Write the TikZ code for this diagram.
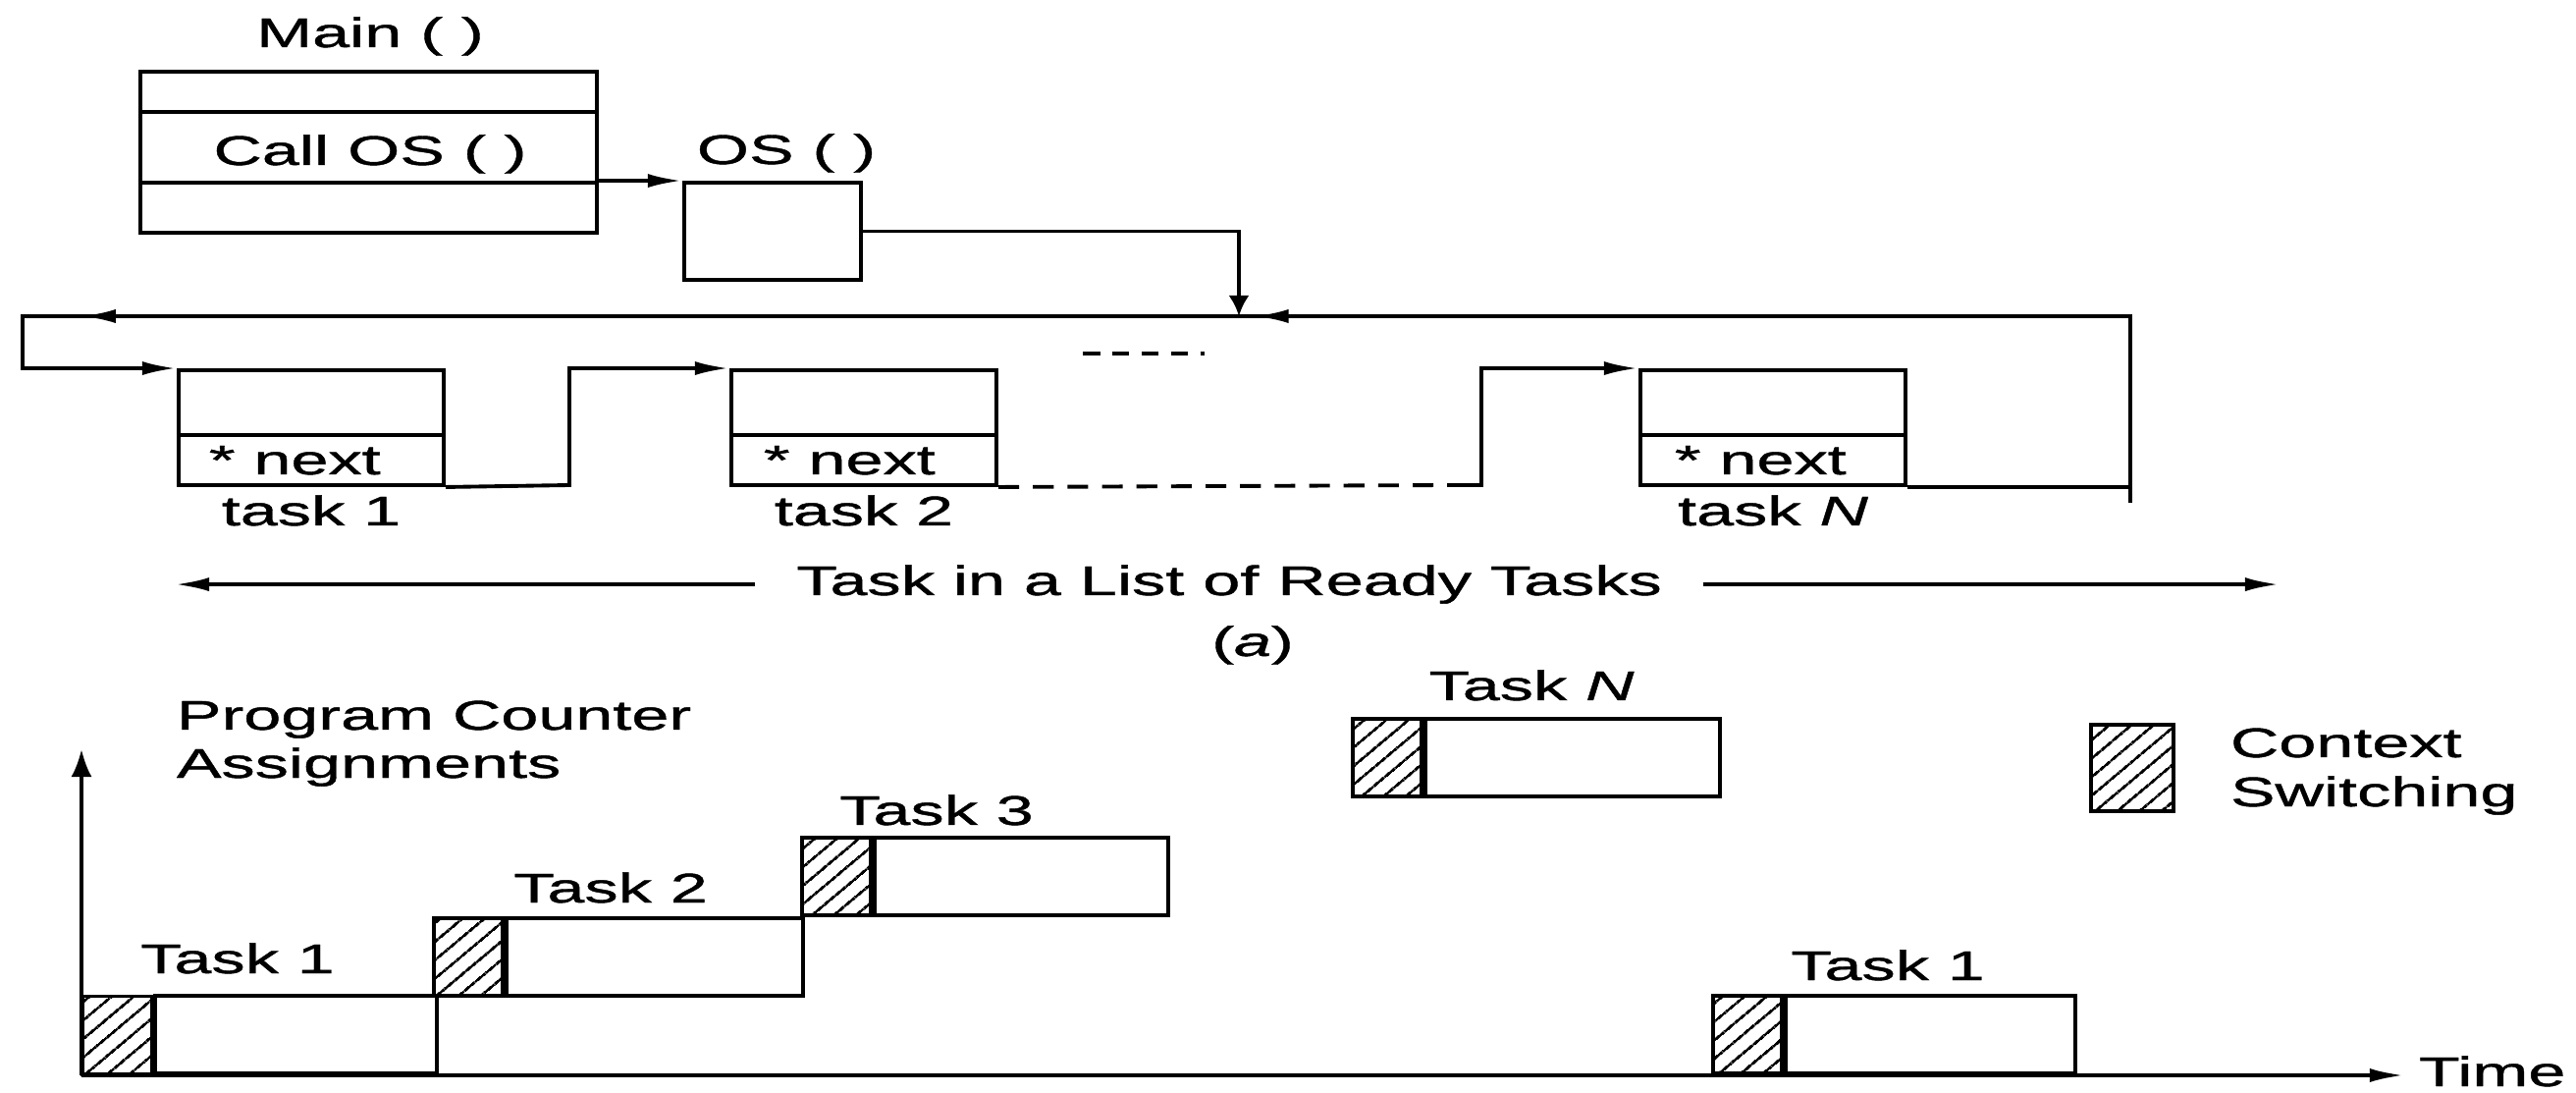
\documentclass[tikz,border=0pt]{standalone}
\usepackage{fontspec}
\setmainfont{Liberation Sans}[FakeStretch=1.62,FakeBold=1]
\usetikzlibrary{arrows.meta,patterns.meta,decorations.markings}

\begin{document}
\begin{tikzpicture}[
    x=0.01cm, y=-0.01cm, line width=1.1pt,
    lbl/.style={font=\fontsize{12}{14}\selectfont,inner sep=0pt,anchor=base},
    lblw/.style={lbl,anchor=base west},
    tcb/.style={draw,inner sep=0pt,minimum width=2.7cm,minimum height=1.17cm},
    cs/.style={draw,inner sep=0pt,minimum width=0.7cm,minimum height=0.79cm,anchor=south west,
      pattern={Lines[angle=40,distance=4pt,line width=0.8pt]}},
    run/.style={draw,inner sep=0pt,minimum width=#1,minimum height=0.79cm,anchor=south west},
    hto/.style={-{Latex[length=10pt,width=4pt]}},
    vto/.style={-{Latex[length=6pt,width=6pt]}},
    midto/.style={postaction={decorate},decoration={markings,
      mark=at position 10.82cm with {\arrow{Latex[length=10pt,width=4pt]}},
      mark=at position 22.76cm with {\arrow{Latex[length=10pt,width=4pt]}}}}]
  \useasboundingbox (0,0) rectangle (2624,1113);

  \node[draw,inner sep=0pt,minimum width=4.65cm,minimum height=1.64cm] (main) at (375.5,155) {};
  \node[lbl] (mainlbl) at (377,48) {Main ( )};
  \draw (main.west |- 0,114) -- (main.east |- 0,114);
  \draw (main.west |- 0,186) -- (main.east |- 0,186);
  \node[lbl] (call) at (377,168) {Call OS ( )};
  \node[draw,inner sep=0pt,minimum width=1.8cm,minimum height=0.99cm] (os) at (787,235.5) {};
  \node[lbl] (oslbl) at (801,167) {OS ( )};
  \draw[hto] (main.east |- os.north) -- (os.north west);

  \node[tcb] (t1) at (317,435.5) {};
  \node[tcb] (t2) at (880,435.5) {};
  \node[tcb] (tN) at (1806,435.5) {};
  \foreach \t in {t1,t2,tN}
    \draw (\t.west |- 0,443) -- (\t.east |- 0,443);
  \node[lblw] (n1) at (211,483) {* next};
  \node[lblw] (n2) at (776,483) {* next};
  \node[lblw] (nN) at (1704,483) {* next};
  \node[lbl] (t1lbl) at (317,535) {task 1};
  \node[lbl] (t2lbl) at (880,535) {task 2};
  \node[lbl] (tNlbl) at (1806,535) {task \textit{N}};

  \coordinate (join) at (1262,322);
  \coordinate (bl) at (23,322);
  \coordinate (rb) at (2170,512);
  \coordinate (k1) at (580,494);
  \coordinate (k2) at (1475,494);
  \coordinate (k3) at (1509,494);
  \coordinate (e1) at (1103,360);
  \coordinate (e2) at (1227,360);
  \draw[vto] (os.east) -| (join);
  \draw[hto,midto] (rb) |- (bl) |- (t1.north west);
  \draw[hto] (t1.south east) -- (k1) |- (t2.north west);
  \draw[dash pattern=on 6pt off 4pt] (t2.south east) -- (k2);
  \draw[hto] (k2) -- (k3) |- (tN.north west);
  \draw (tN.south east) -- (tN.south east -| rb);
  \draw[dash pattern=on 5pt off 3.5pt] (e1) -- (e2);

  \node[lbl,inner xsep=0.4cm] (list) at (1252,606) {Task in a List of Ready Tasks};
  \coordinate (lsl) at (178,596);
  \coordinate (lsr) at (2322,596);
  \draw[hto] (list.west) -- (list.west -| lsl);
  \draw[hto] (list.east) -- (list.east -| lsr);
  \node[lbl] (capa) at (1276,668) {(\textit{a})};

  \coordinate (o) at (83,1095);
  \coordinate (ytop) at (83,763);
  \coordinate (xend) at (2449,1095);
  \draw[-{Latex[length=8pt,width=6pt]}] (o) -- (ytop);
  \draw[hto] (o) -- (xend);
  \node[lblw] (time) at (2462,1106) {Time};
  \node[lblw] (pc1) at (178,743) {Program Counter};
  \node[lblw] (pc2) at (178,792) {Assignments};

  \node[cs] (cs1) at (83,1095) {};
  \node[run=2.87cm] (r1) at (cs1.south east) {};
  \node[cs] (cs2) at (440,1016) {};
  \node[run=3.02cm] (r2) at (cs2.south east) {};
  \node[cs] (cs3) at (815,934) {};
  \node[run=2.99cm] (r3) at (cs3.south east) {};
  \node[cs] (csN) at (1376,813) {};
  \node[run=3cm] (rN) at (csN.south east) {};
  \node[cs] (cs4) at (1743,1095) {};
  \node[run=2.95cm] (r4) at (cs4.south east) {};
  \node[cs,minimum width=0.84cm,minimum height=0.88cm] (key) at (2128,828) {};

  \node[lbl] (r1lbl) at (242,991) {Task 1};
  \node[lbl] (r2lbl) at (622,919) {Task 2};
  \node[lbl] (r3lbl) at (954,840) {Task 3};
  \node[lbl] (rNlbl) at (1560,713) {Task \textit{N}};
  \node[lbl] (r4lbl) at (1923,998) {Task 1};
  \node[lblw] (key1) at (2270,771) {Context};
  \node[lblw] (key2) at (2270,821) {Switching};
\end{tikzpicture}
\end{document}
